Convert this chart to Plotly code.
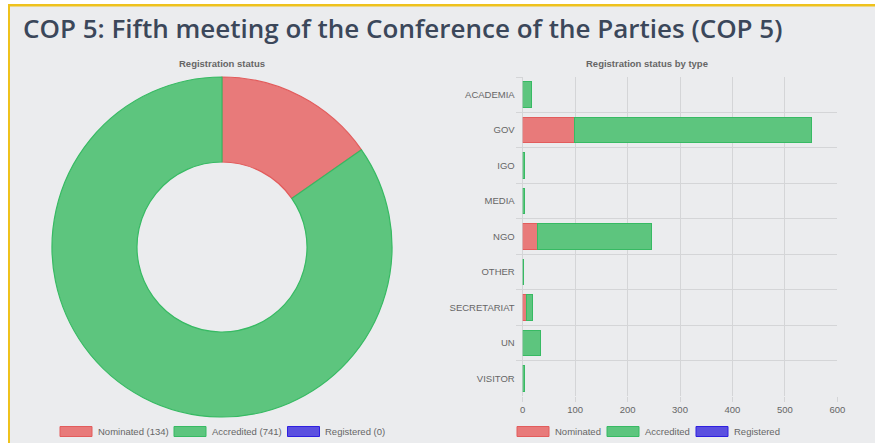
import plotly.graph_objects as go

W, H = 875, 443

# ---- data ----
statuses = ["Nominated", "Accredited", "Registered"]
status_totals = [134, 741, 0]

types = ["ACADEMIA", "GOV", "IGO", "MEDIA", "NGO", "OTHER", "SECRETARIAT", "UN", "VISITOR"]
nominated = [0, 98, 0, 0, 28, 0, 8, 0, 0]
accredited = [16, 452, 4, 4, 217, 1, 11, 33, 3]
registered = [0, 0, 0, 0, 0, 0, 0, 0, 0]

title_text = "COP 5: Fifth meeting of the Conference of the Parties (COP 5)"
pie_title = "Registration status"
bar_title = "Registration status by type"

# ---- styles ----
fills = ["#e87a7a", "#5dc57e", "#5b50e0"]
borders = ["#e25c5c", "#37ba63", "#2e1fe0"]
FONT = "Liberation Sans"
GRID = "#d4d5d7"
TXT = "#666666"
BG = "#ebecee"


def px(x):
    return x / W


def py(y):
    return 1 - y / H


fig = go.Figure()

fig.add_trace(go.Pie(
    labels=statuses, values=status_totals, hole=0.5, sort=False,
    direction="clockwise", rotation=0, textinfo="none",
    marker=dict(colors=fills,
                line=dict(color=borders, width=[1.2 if v > 0 else 0 for v in status_totals])),
    domain=dict(x=[px(52), px(392)], y=[py(417), py(77)]),
    showlegend=False,
))

for name, vals, fc, lc in zip(statuses, [nominated, accredited, registered], fills, borders):
    fig.add_trace(go.Bar(
        y=types, x=vals, name=name, orientation="h",
        marker=dict(color=fc, line=dict(color=lc, width=[1 if v > 0 else 0 for v in vals])),
        showlegend=False,
    ))

shapes = [
    dict(type="rect", xref="paper", yref="paper", x0=px(8), x1=1, y0=0, y1=py(4),
         fillcolor=BG, line=dict(width=0), layer="below"),
    dict(type="rect", xref="paper", yref="paper", x0=px(8), x1=1, y0=py(6.5), y1=py(4),
         fillcolor="#efc21c", line=dict(width=0), layer="below"),
    dict(type="rect", xref="paper", yref="paper", x0=px(8), x1=px(10), y0=0, y1=py(4),
         fillcolor="#efc21c", line=dict(width=0), layer="below"),
]
annotations = [
    dict(text=title_text, xref="paper", yref="paper", x=px(21), y=py(28),
         xanchor="left", yanchor="middle", showarrow=False,
         font=dict(family="Open Sans", size=26, color="#3b475a", weight=600)),
    dict(text="<b>%s</b>" % pie_title, xref="paper", yref="paper", x=px(222), y=py(63),
         xanchor="center", yanchor="middle", showarrow=False,
         font=dict(family=FONT, size=9.5, color=TXT)),
    dict(text="<b>%s</b>" % bar_title, xref="paper", yref="paper", x=px(647), y=py(63),
         xanchor="center", yanchor="middle", showarrow=False,
         font=dict(family=FONT, size=9.5, color=TXT)),
]

# custom legends (chart.js style wide boxes)
pie_legend_x = [60, 174, 287.5]
bar_legend_x = [517, 607, 696]
for i, s in enumerate(statuses):
    for lx, label in ((pie_legend_x[i], "%s (%d)" % (s, status_totals[i])), (bar_legend_x[i], s)):
        shapes.append(dict(type="rect", xref="paper", yref="paper",
                           x0=px(lx), x1=px(lx + 32), y0=py(436.5), y1=py(426.5),
                           fillcolor=fills[i], line=dict(color=borders[i], width=1)))
        annotations.append(dict(text=label, xref="paper", yref="paper",
                                x=px(lx + 35.5), y=py(431.5), xanchor="left", yanchor="middle",
                                showarrow=False, font=dict(family=FONT, size=9.5, color=TXT)))

fig.update_layout(
    width=W, height=H, margin=dict(l=0, r=0, t=0, b=0),
    paper_bgcolor="white", plot_bgcolor="rgba(0,0,0,0)",
    barmode="stack", bargap=0.28,
    font=dict(family=FONT, size=9.5, color=TXT),
    shapes=shapes, annotations=annotations,
    xaxis=dict(domain=[px(522.7), px(837.3)], range=[0, 600], dtick=100,
               showgrid=True, gridcolor=GRID, gridwidth=1,
               zeroline=True, zerolinecolor=GRID, zerolinewidth=1,
               ticks="outside", ticklen=5, tickcolor=GRID,
               tickfont=dict(size=9.5, color=TXT), showline=False, automargin=False),
    yaxis=dict(domain=[py(396), py(77)], type="category", categoryorder="array",
               categoryarray=types, autorange="reversed", tickson="boundaries",
               showgrid=True, gridcolor=GRID, gridwidth=1,
               ticks="outside", ticklen=6, tickcolor=GRID, ticklabelstandoff=7,
               tickfont=dict(size=9.5, color=TXT), showline=False, automargin=False),
)

fig.write_html("out.html", config={"displayModeBar": False},
               post_script="document.body.style.margin='0';document.body.style.overflow='hidden';")
